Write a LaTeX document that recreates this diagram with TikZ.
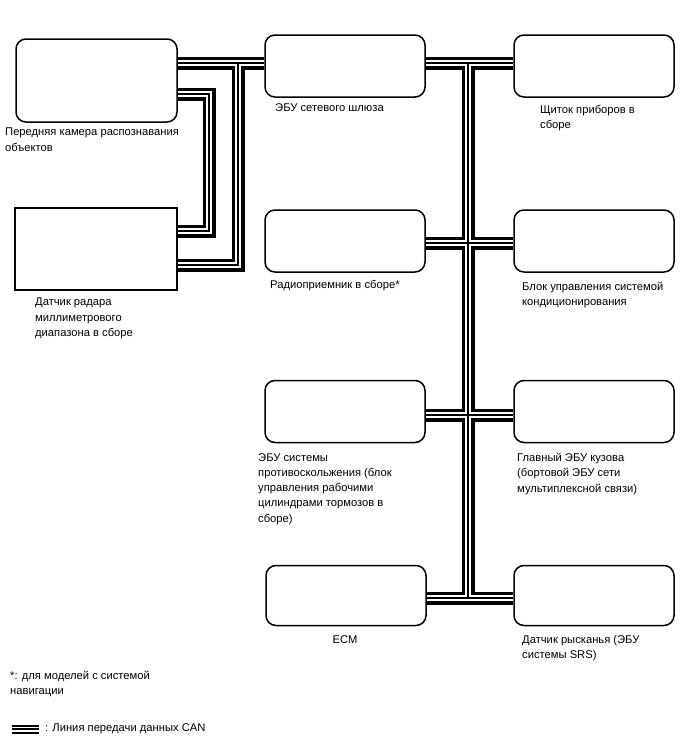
\documentclass[tikz,border=0pt]{standalone}
\usepackage{fontspec}
\setmainfont{Liberation Sans}
\usetikzlibrary{backgrounds}

\begin{document}
\begin{tikzpicture}[x=1pt,y=-1pt,
      unit/.style={draw,line width=1.5pt,rounded corners=10pt,fill=white,minimum width=160pt,minimum height=62pt,inner sep=0pt},
      lbl/.style={anchor=north west,inner sep=0pt,align=left,font=\fontsize{11.2}{15.3}\selectfont}]
      \useasboundingbox (0,0) rectangle (688,755);
      % units
      \node[unit,minimum width=161pt,minimum height=83pt] (cam) at (96.5,80.5) {};
      \node[unit,rounded corners=0pt,minimum width=162pt,minimum height=82pt] (rad) at (96,249) {};
      \node[unit] (gw) at (345,66) {};
      \node[unit] (ip) at (594,66) {};
      \node[unit] (radio) at (345,241) {};
      \node[unit] (ac) at (594,241) {};
      \node[unit] (coll) at (345,411.5) {};
      \node[unit] (body) at (594,411.5) {};
      \node[unit,minimum height=60pt] (ecm) at (346,595.5) {};
      \node[unit,minimum height=60pt] (yaw) at (594,595.5) {};
      % labels
      \node[lbl] (camlbl) at (5,128) {Передняя камера распознавания\\объектов};
      \node[lbl] (radlbl) at (35,298) {Датчик радара\\миллиметрового\\диапазона в сборе};
      \node[lbl] (gwlbl) at (275,103) {ЭБУ сетевого шлюза};
      \node[lbl] (iplbl) at (540,105) {Щиток приборов в\\сборе};
      \node[lbl] (radiolbl) at (270,280) {Радиоприемник в сборе*};
      \node[lbl] (aclbl) at (522,282) {Блок управления системой\\кондиционирования};
      \node[lbl] (colllbl) at (258,453) {ЭБУ системы\\противоскольжения (блок\\управления рабочими\\цилиндрами тормозов в\\сборе)};
      \node[lbl] (bodylbl) at (517,453) {Главный ЭБУ кузова\\(бортовой ЭБУ сети\\мультиплексной связи)};
      \node[lbl,anchor=north] (ecmlbl) at (345,635) {ECM};
      \node[lbl] (yawlbl) at (522,635) {Датчик рысканья (ЭБУ\\системы SRS)};
      \node[lbl] (note) at (10,671) {*: для моделей с системой\\навигации};
      \node[lbl] (legend) at (45,723) {: Линия передачи данных CAN};
      % bus corners and junctions
      \coordinate (jA) at (238,63);
      \coordinate (kB) at (238,265);
      \coordinate (kC) at (209,94);
      \coordinate (kD) at (209,231);
      \coordinate (jT) at (468,63);
      \coordinate (x1) at (468,243);
      \coordinate (x2) at (468,415);
      \coordinate (jE) at (468,598);
      \coordinate (lgs) at (12,729);
      % CAN lines
      \begin{scope}[on background layer]
        \foreach \w/\c in {13/black,6.4/white,2/black}{
          \draw[line width=\w pt,\c] (cam.east |- jA) -- (gw.west |- jA)
            (jA) -- (kB) -- (rad.east |- kB)
            (cam.east |- kC) -- (kC) -- (kD) -- (rad.east |- kD)
            (gw.east |- jT) -- (ip.west |- jT)
            (jT) -- (jE)
            (radio.east |- x1) -- (ac.west |- x1)
            (coll.east |- x2) -- (body.west |- x2)
            (ecm.east |- jE) -- (yaw.west |- jE);
        }
      \end{scope}
      \foreach \w/\c in {9/black,5/white,2/black}
        \draw[line width=\w pt,\c] (lgs) -- ++(27,0);
    \end{tikzpicture}
\end{document}
